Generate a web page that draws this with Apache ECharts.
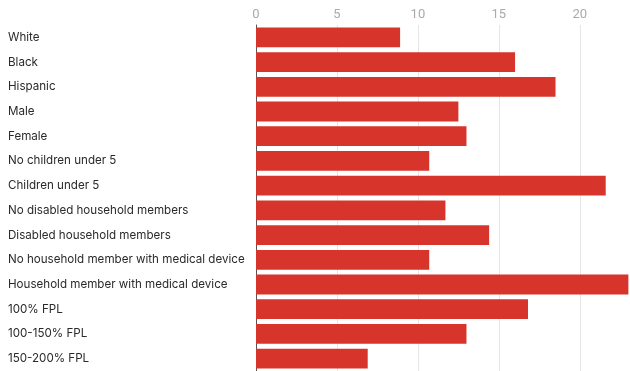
<!DOCTYPE html>
<html>
<head>
<meta charset="utf-8">
<script src="https://cdn.jsdelivr.net/npm/echarts@6/dist/echarts.min.js"></script>
<style>html,body{margin:0;padding:0;background:#fff;}#c{width:630px;height:371px;}</style>
</head>
<body>
<div id="c"></div>
<script>
var categories = ["White","Black","Hispanic","Male","Female","No children under 5","Children under 5","No disabled household members","Disabled household members","No household member with medical device","Household member with medical device","100% FPL","100-150% FPL","150-200% FPL"];
var values = [8.9,16.0,18.5,12.5,13.0,10.7,21.6,11.7,14.4,10.7,23.0,16.8,13.0,6.9];
var xMin = 0, xMax = 23.1, xStep = 5;

var chart = echarts.init(document.getElementById('c'), null, {renderer:'canvas'});
chart.setOption({
  animation:false,
  grid:{left:256, top:25, right:0, bottom:-4},
  xAxis:{
    type:'value', position:'top', min:xMin, max:xMax, interval:xStep,
    axisLine:{show:false}, axisTick:{show:false},
    axisLabel:{color:'#aaaaaa', fontFamily:'Roboto', fontSize:13, margin:4, showMaxLabel:false},
    splitLine:{lineStyle:{color:'#e6e6e6', width:1}}
  },
  yAxis:{
    type:'category', data:categories, inverse:true,
    axisLine:{show:true, lineStyle:{color:'#555', width:1}}, axisTick:{show:false},
    axisLabel:{align:'left', margin:248, color:'#2a2a2a', fontFamily:'Inter', fontSize:11.6}
  },
  series:[{
    type:'bar', data:values, barCategoryGap:'20%',
    itemStyle:{color:'#d7352b'}
  }]
});
</script>
</body>
</html>
